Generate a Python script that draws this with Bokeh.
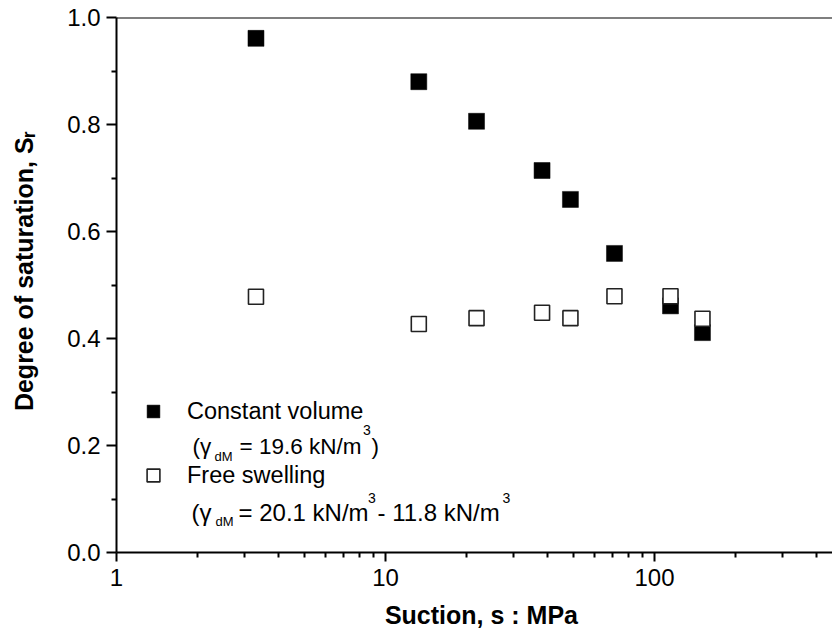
from bokeh.plotting import figure
from bokeh.models import (Range1d, FixedTicker, PrintfTickFormatter, Legend, LegendItem,
                          Label, Span)
from bokeh.embed import file_html
from bokeh.resources import INLINE

# ---- data ----
suction = [3.3, 13.3, 21.8, 38.2, 48.7, 71.0, 114.7, 150.8]
sr_constant = [0.961, 0.880, 0.806, 0.714, 0.660, 0.559, 0.461, 0.411]
sr_free = [0.478, 0.427, 0.438, 0.448, 0.438, 0.479, 0.479, 0.437]

x_major = [1, 10, 100]
x_minor = [2, 3, 4, 5, 6, 7, 8, 9, 20, 30, 40, 50, 60, 70, 80, 90, 200, 300, 400]
y_major = [0.0, 0.2, 0.4, 0.6, 0.8, 1.0]
y_minor = [0.1, 0.3, 0.5, 0.7, 0.9]

FONT = "Liberation Sans"
NB = "\u00a0"

p = figure(width=832, height=642, x_axis_type="log",
           x_range=Range1d(1, 459), y_range=Range1d(0, 1.0),
           output_backend="svg", toolbar_location=None,
           min_border_left=116, min_border_right=0, min_border_top=17, min_border_bottom=90)
p.xgrid.visible = False
p.ygrid.visible = False
p.outline_line_color = None
p.background_fill_color = "white"
p.border_fill_color = "white"

for ax in (p.xaxis[0], p.yaxis[0]):
    ax.axis_line_width = 2
    ax.axis_line_color = "black"
    ax.major_tick_in = 0
    ax.minor_tick_in = 0
    ax.major_tick_line_width = 2
    ax.minor_tick_line_width = 2
    ax.major_tick_line_color = "black"
    ax.minor_tick_line_color = "black"
    ax.major_label_text_font = FONT
    ax.major_label_text_font_size = "24px"
    ax.major_label_text_color = "black"
    ax.axis_label_text_font = FONT
    ax.axis_label_text_font_size = "25px"
    ax.axis_label_text_font_style = "bold"
    ax.axis_label_text_color = "black"

p.xaxis.ticker = FixedTicker(ticks=x_major, minor_ticks=x_minor)
p.xaxis.formatter = PrintfTickFormatter(format="%d")
p.xaxis.major_tick_out = 9
p.xaxis.minor_tick_out = 5
p.xaxis.major_label_standoff = 7
p.xaxis.axis_label = NB * 2 + "Suction, s : MPa"
p.xaxis.axis_label_standoff = 12

p.yaxis.ticker = FixedTicker(ticks=y_major, minor_ticks=y_minor)
p.yaxis.formatter = PrintfTickFormatter(format="%.1f")
p.yaxis.major_tick_out = 10
p.yaxis.minor_tick_out = 5
p.yaxis.major_label_standoff = 6
p.yaxis.axis_label = NB * 4 + "Degree of saturation, S\u1d63"
p.yaxis.axis_label_standoff = 26

# top frame line
p.add_layout(Span(location=1.0, dimension="width", line_color="black", line_width=2))

# data
r1 = p.scatter(suction, sr_constant, marker="square", size=16, fill_color="black",
               line_color="black", line_width=0.5)
r2 = p.scatter(suction, sr_free, marker="square", size=15, fill_color="white",
               line_color="#222222", line_width=1.6)

legend = Legend(items=[LegendItem(label="Constant volume", renderers=[r1]),
                       LegendItem(label="Free swelling", renderers=[r2])],
                location=(21, 61), glyph_width=32, glyph_height=32, label_height=32,
                spacing=32, label_standoff=18, padding=0, margin=0,
                border_line_alpha=0, background_fill_alpha=0,
                label_text_font=FONT, label_text_font_size="23.5px",
                label_text_color="black")
p.add_layout(legend)


def lab(text, x, y, size):
    p.add_layout(Label(x=x, y=y, x_units="screen", y_units="screen", text=text,
                       text_font=FONT, text_font_size=size,
                       text_align="left", text_baseline="alphabetic", text_color="black"))

# line 1
lab("(\u03b3", 76, 106.5, "22.5px")
lab("dM", 98, 96, "13px")
lab("= 19.6 kN/m", 123, 106.5, "22.5px")
lab("3", 246.5, 122.5, "14px")
lab(")", 255, 106.5, "22.5px")
# line 2
lab("(\u03b3", 75, 40, "24px")
lab("dM", 99, 31, "13px")
lab("= 20.1 kN/m", 122, 40, "24px")
lab("3", 251.5, 55, "14px")
lab("- 11.8 kN/m", 261, 40, "24px")
lab("3", 386, 55, "14px")

open("out.html", "w").write(file_html(p, INLINE))
